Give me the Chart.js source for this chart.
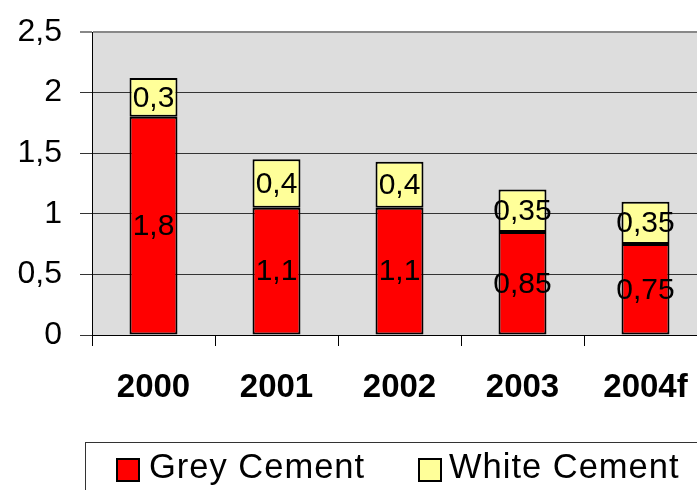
<!DOCTYPE html>
<html>
<head>
<meta charset="utf-8">
<script src="https://cdn.jsdelivr.net/npm/chart.js@4/dist/chart.umd.min.js"></script>
<style>
html,body{margin:0;padding:0;background:#fff;overflow:hidden;width:697px;height:490px;}
#wrap{position:absolute;left:0;top:0;}
</style>
</head>
<body>
<div id="wrap"><canvas id="c" width="707" height="500"></canvas></div>
<script>
const categories = ['2000', '2001', '2002', '2003', '2004f'];
const greyCement = [1.8, 1.05, 1.05, 0.85, 0.75];
const whiteCement = [0.32, 0.4, 0.38, 0.35, 0.35];
const greyLabels = ['1,8', '1,1', '1,1', '0,85', '0,75'];
const whiteLabels = ['0,3', '0,4', '0,4', '0,35', '0,35'];
const seriesNames = ['Grey Cement', 'White Cement'];
const yTicks = [0, 0.5, 1, 1.5, 2, 2.5];

const FONT = "'Liberation Sans', Arial, sans-serif";

const plotBg = {
  id: 'plotBg',
  beforeDraw(chart) {
    const a = chart.chartArea, ctx = chart.ctx;
    ctx.save();
    ctx.fillStyle = '#dddddd';
    ctx.fillRect(a.left, a.top, a.right - a.left, a.bottom - a.top);
    ctx.restore();
  }
};

const valueLabels = {
  id: 'valueLabels',
  afterDatasetsDraw(chart) {
    const ctx = chart.ctx;
    const labelSets = [greyLabels, whiteLabels];
    ctx.save();
    ctx.font = '30px ' + FONT;
    ctx.fillStyle = '#000';
    ctx.textAlign = 'center';
    ctx.textBaseline = 'middle';
    chart.data.datasets.forEach((ds, di) => {
      const meta = chart.getDatasetMeta(di);
      meta.data.forEach((bar, i) => {
        const p = bar.getProps(['x', 'y', 'base'], true);
        ctx.fillText(labelSets[di][i], p.x, (p.y + p.base) / 2 + 1);
      });
    });
    ctx.restore();
  }
};

const boxLegend = {
  id: 'boxLegend',
  afterDraw(chart) {
    const ctx = chart.ctx;
    ctx.save();
    ctx.strokeStyle = '#333';
    ctx.lineWidth = 1;
    ctx.strokeRect(85.5, 442.5, 700, 100);
    const xs = [[117, 149], [419, 449]];
    ctx.font = '34.5px ' + FONT;
    try { ctx.letterSpacing = '1px'; } catch (e) {}
    ctx.textBaseline = 'alphabetic';
    ctx.textAlign = 'left';
    chart.data.datasets.forEach((ds, i) => {
      const [sx, tx] = xs[i];
      ctx.fillStyle = ds.backgroundColor;
      ctx.fillRect(sx, 459, 22, 22);
      ctx.strokeStyle = '#000';
      ctx.lineWidth = 2;
      ctx.strokeRect(sx, 459, 22, 22);
      ctx.fillStyle = '#000';
      ctx.fillText(seriesNames[i], tx, 478);
    });
    ctx.restore();
  }
};

new Chart(document.getElementById('c'), {
  type: 'bar',
  data: {
    labels: categories,
    datasets: [
      { label: seriesNames[0], data: greyCement, backgroundColor: '#ff0000', borderColor: '#000', borderWidth: 2, borderSkipped: false, barPercentage: 0.39, categoryPercentage: 1 },
      { label: seriesNames[1], data: whiteCement, backgroundColor: '#ffff99', borderColor: '#000', borderWidth: 2, borderSkipped: false, barPercentage: 0.39, categoryPercentage: 1 }
    ]
  },
  options: {
    responsive: false,
    animation: false,
    devicePixelRatio: 1,
    layout: { padding: { top: 32, left: 0, right: 0, bottom: 0 } },
    plugins: { legend: { display: false }, tooltip: { enabled: false } },
    scales: {
      x: {
        stacked: true,
        afterFit(s) { s.height = 165; s.paddingLeft = 0; s.paddingRight = 0; },
        grid: { drawOnChartArea: false, offset: true, tickLength: 11, color: '#000', lineWidth: 1 },
        border: { color: '#000', width: 1 },
        ticks: { color: '#000', padding: 22, font: { family: FONT, size: 33, weight: 'bold' }, maxRotation: 0 }
      },
      y: {
        stacked: true,
        min: 0, max: 2.5,
        afterFit(s) { s.width = 92; s.paddingTop = 0; s.paddingBottom = 0; },
        afterBuildTicks(s) { s.ticks = yTicks.map(v => ({ value: v })); },
        grid: {
          tickLength: 12,
          color: (c) => (c.tick && c.tick.value === 2.5) ? '#888' : '#333',
          lineWidth: (c) => (c.tick && c.tick.value === 2.5) ? 2 : 1
        },
        border: { color: '#000', width: 1 },
        ticks: {
          color: '#000', padding: 18,
          font: { family: FONT, size: 32 },
          callback: (v) => String(v).replace('.', ',')
        }
      }
    }
  },
  plugins: [plotBg, valueLabels, boxLegend]
});
</script>
</body>
</html>
